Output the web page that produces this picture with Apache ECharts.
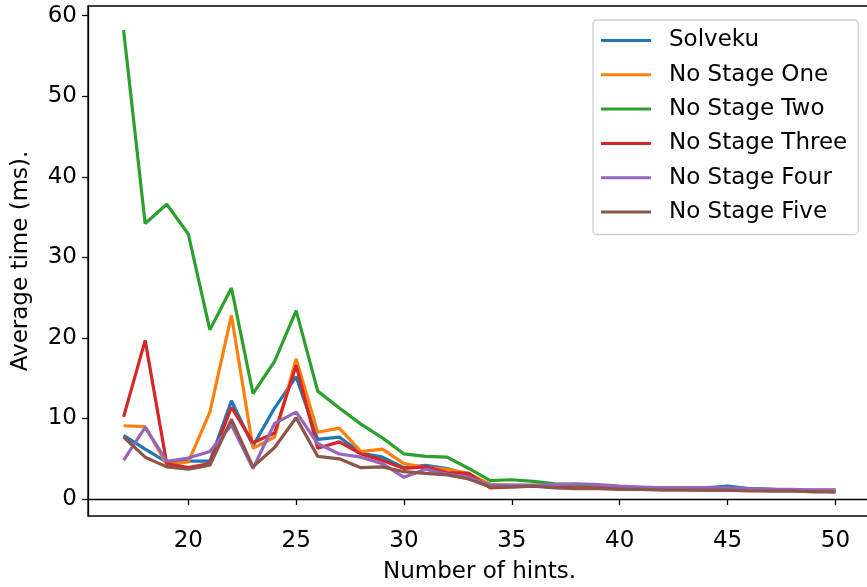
<!DOCTYPE html>
<html>
<head>
<meta charset="utf-8">
<script src="https://cdn.jsdelivr.net/npm/echarts@6/dist/echarts.min.js"></script>
<style>
  html, body { margin: 0; padding: 0; background: #fff; }
  #chart { width: 867px; height: 587px; }
</style>
</head>
<body>
<div id="chart"></div>
<script>
const hints = [17,18,19,20,21,22,23,24,25,26,27,28,29,30,31,32,33,34,35,36,37,38,39,40,41,42,43,44,45,46,47,48,49,50];

const solveku = [7.9,6.2,4.6,4.7,4.7,12.2,6.6,11.3,15.2,7.4,7.7,5.7,5.2,3.9,4.2,3.8,3.0,1.8,1.7,1.7,1.7,1.6,1.5,1.5,1.4,1.4,1.4,1.4,1.6,1.3,1.2,1.1,1.1,1.1];
const noStageOne = [9.1,9.0,4.3,4.6,10.8,22.8,6.3,7.7,17.4,8.3,8.8,5.9,6.2,4.4,3.9,3.7,3.2,1.8,1.7,1.7,1.6,1.5,1.5,1.4,1.3,1.3,1.4,1.3,1.3,1.2,1.2,1.1,1.1,1.1];
const noStageTwo = [58.2,34.2,36.6,32.9,21.0,26.2,13.1,17.1,23.4,13.4,11.3,9.3,7.6,5.6,5.3,5.2,3.8,2.3,2.4,2.2,1.9,1.8,1.6,1.5,1.4,1.3,1.3,1.3,1.3,1.2,1.2,1.1,1.0,1.0];
const noStageThree = [10.2,19.7,4.4,3.9,4.4,11.4,7.0,8.2,16.6,6.3,7.1,5.6,4.8,3.8,4.0,3.3,3.2,1.4,1.5,1.6,1.5,1.4,1.4,1.3,1.2,1.3,1.2,1.1,1.1,1.1,1.0,1.0,1.0,0.9];
const noStageFour = [4.8,8.9,4.7,5.1,5.9,9.2,3.8,9.4,10.8,6.9,5.6,5.2,4.4,2.7,3.7,3.1,2.7,1.7,1.7,1.7,1.8,1.9,1.8,1.6,1.5,1.4,1.4,1.4,1.4,1.3,1.2,1.2,1.1,1.1];
const noStageFive = [7.7,5.2,4.0,3.7,4.2,9.9,4.0,6.4,10.1,5.3,5.0,3.9,4.0,3.4,3.2,3.0,2.5,1.5,1.5,1.6,1.4,1.3,1.3,1.2,1.2,1.1,1.1,1.1,1.1,1.0,1.0,1.0,0.9,0.9];

const seriesNames = ["Solveku","No Stage One","No Stage Two","No Stage Three","No Stage Four","No Stage Five"];
const seriesValues = [solveku, noStageOne, noStageTwo, noStageThree, noStageFour, noStageFive];
const colors = ["#1f77b4","#ff7f0e","#2ca02c","#d62728","#9467bd","#8c564b"];

const xTicks = [20,25,30,35,40,45,50];
const yTicks = [0,10,20,30,40,50,60];

const font = "DejaVu Sans";

const chart = echarts.init(document.getElementById("chart"));

const option = {
  animation: false,
  textStyle: { fontFamily: font, color: "#000" },
  grid: {
    left: 88, right: -4, top: 6, bottom: 71,
    outerBoundsMode: "none",
    show: true, borderColor: "#000", borderWidth: 1.3
  },
  legend: {
    left: 593, top: 20,
    orient: "vertical",
    data: seriesNames,
    icon: "rect",
    itemWidth: 50, itemHeight: 3, itemGap: 11.3,
    padding: [9, 11, 11, 8],
    backgroundColor: "#fff",
    borderColor: "#d0d0d0", borderWidth: 1.3, borderRadius: 4,
    textStyle: { fontFamily: font, fontSize: 23, color: "#000", lineHeight: 23, padding: [0, 0, 0, 13] }
  },
  xAxis: {
    type: "value",
    min: 15.35, max: 51.65,
    name: "Number of hints.",
    nameLocation: "middle",
    nameGap: 45,
    nameTextStyle: { fontFamily: font, fontSize: 23, color: "#000" },
    splitLine: { show: false },
    axisLine: { lineStyle: { color: "#000", width: 1.3 } },
    axisTick: { show: true, length: 6, customValues: xTicks, lineStyle: { color: "#000", width: 1.3 } },
    axisLabel: { customValues: xTicks, fontFamily: font, fontSize: 23, color: "#000", margin: 14 }
  },
  yAxis: {
    type: "value",
    min: -2.1, max: 61.2,
    name: "Average time (ms).",
    nameLocation: "middle",
    nameGap: 55,
    nameTextStyle: { fontFamily: font, fontSize: 23, color: "#000" },
    splitLine: { show: false },
    axisLine: { show: true, lineStyle: { color: "#000", width: 1.3 } },
    axisTick: { show: true, length: 6, customValues: yTicks, lineStyle: { color: "#000", width: 1.3 } },
    axisLabel: { customValues: yTicks, fontFamily: font, fontSize: 23, color: "#000", margin: 11 }
  },
  series: seriesNames.map((name, i) => ({
    name: name,
    type: "line",
    symbol: "none",
    data: hints.map((h, j) => [h, seriesValues[i][j]]),
    itemStyle: { color: colors[i] },
    lineStyle: { color: colors[i], width: 3.2 }
  }))
};

chart.setOption(option);
</script>
</body>
</html>
